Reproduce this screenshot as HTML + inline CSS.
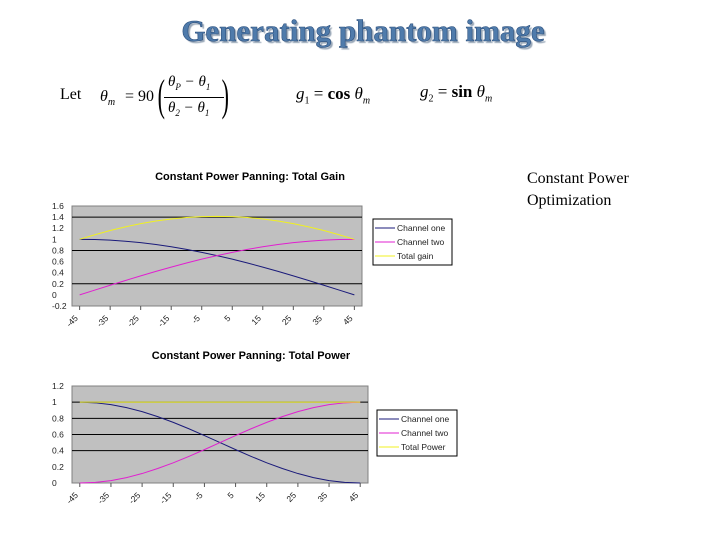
<!DOCTYPE html>
<html><head><meta charset="utf-8"><style>
body{margin:0;width:720px;height:540px;background:#fff;position:relative;overflow:hidden;font-family:"Liberation Sans",sans-serif}
.abs{position:absolute}
.ser{font-family:"Liberation Serif",serif}
</style></head><body>
<div class="abs ser" style="left:0;width:726px;top:13px;text-align:center;font-size:31px;font-weight:bold;color:#4f7bab;text-shadow:2px 2px 1px #9aa8b8;-webkit-text-stroke:0.6px #2c4f7c">Generating phantom image</div>
<div class="abs ser" style="left:60px;top:72px;font-size:16px;width:190px;height:52px">
<span style="position:absolute;left:0;top:14px">Let</span>
<span style="position:absolute;left:40px;top:16px;font-style:italic">θ<sub style="font-size:10px">m</sub></span>
<span style="position:absolute;left:65px;top:16px">= 90</span>
<span style="position:absolute;left:94px;top:-2px;font-size:44px;transform:scaleX(0.5);font-weight:100">(</span>
<span style="position:absolute;left:108px;top:2px;font-style:italic;font-size:15px">θ<sub style="font-size:9px">P</sub> − θ<sub style="font-size:9px">1</sub></span>
<span style="position:absolute;left:104px;top:25px;width:60px;border-top:1px solid #000"></span>
<span style="position:absolute;left:108px;top:28px;font-style:italic;font-size:15px">θ<sub style="font-size:9px">2</sub> − θ<sub style="font-size:9px">1</sub></span>
<span style="position:absolute;left:158px;top:-2px;font-size:44px;transform:scaleX(0.5)">)</span>
</div>
<div class="abs ser" style="left:296px;top:84px;font-size:17px"><i>g</i><sub style="font-size:10px">1</sub> = <b>cos</b> <i>θ<sub style="font-size:10px">m</sub></i></div>
<div class="abs ser" style="left:420px;top:82px;font-size:17px"><i>g</i><sub style="font-size:10px">2</sub> = <b>sin</b> <i>θ<sub style="font-size:10px">m</sub></i></div>
<div class="abs ser" style="left:527px;top:168px;font-size:16px;line-height:22px">Constant Power<br>Optimization</div>
<svg class="abs" style="left:0;top:0" width="720" height="540" id="svg"></svg>
<script>
const categories=[-45,-40,-35,-30,-25,-20,-15,-10,-5,0,5,10,15,20,25,30,35,40,45];
const tickLabels=["-45","-35","-25","-15","-5","5","15","25","35","45"];
const gainOne=[1,0.996,0.985,0.966,0.94,0.906,0.866,0.819,0.766,0.707,0.643,0.574,0.5,0.423,0.342,0.259,0.174,0.087,0];
const gainTwo=[0,0.087,0.174,0.259,0.342,0.423,0.5,0.574,0.643,0.707,0.766,0.819,0.866,0.906,0.94,0.966,0.985,0.996,1];
const gainTotal=[1,1.083,1.159,1.225,1.282,1.329,1.366,1.393,1.409,1.414,1.409,1.393,1.366,1.329,1.282,1.225,1.159,1.083,1];
const powerOne=[1,0.992,0.97,0.933,0.883,0.821,0.75,0.671,0.587,0.5,0.413,0.329,0.25,0.179,0.117,0.067,0.03,0.008,0];
const powerTwo=[0,0.008,0.03,0.067,0.117,0.179,0.25,0.329,0.413,0.5,0.587,0.671,0.75,0.821,0.883,0.933,0.97,0.992,1];
const powerTotal=[1,1,1,1,1,1,1,1,1,1,1,1,1,1,1,1,1,1,1];
const gainTicks=["1.6","1.4","1.2","1","0.8","0.6","0.4","0.2","0","-0.2"];
const powerTicks=["1.2","1","0.8","0.6","0.4","0.2","0"];
const NS="http://www.w3.org/2000/svg";
const svg=document.getElementById('svg');
function mk(t,a,p){const e=document.createElementNS(NS,t);for(const k in a)e.setAttribute(k,a[k]);(p||svg).appendChild(e);return e;}
function chart(o){
  const g=mk('g',{});
  
  
  const x=i=>o.x0+(o.x1-o.x0)*(i+0.5)/categories.length;
  const y=v=>o.y1-(v-o.ymin)/(o.ymax-o.ymin)*(o.y1-o.y0);
  const bg=mk('rect',{x:o.x0,y:o.y0,width:o.x1-o.x0,height:o.y1-o.y0,fill:'#c0c0c0',stroke:'#808080'},g);
  
  
  const t=mk('text',{x:o.tx,y:o.ty,'font-size':11,'font-weight':'bold','text-anchor':'middle'},g);t.textContent=o.title;
  
  
  o.ticks.forEach((s,i)=>{const v=o.ymax-i*o.step;const yy=y(v);
    const l=mk('text',{x:o.x0-20,y:yy+3,'font-size':8.5,fill:'#222'},g);l.textContent=s;
    
    
    if(o.grid.includes(i)){const gl=mk('line',{x1:o.x0,x2:o.x1,y1:yy,y2:yy,stroke:'#000','stroke-width':1},g);
      
      }
  });
  tickLabels.forEach((s,i)=>{const xx=x(i*2)-4;const yy=o.y1+14;
    const l=mk('text',{x:xx,y:yy,'font-size':8.5,fill:'#222','text-anchor':'end',transform:`rotate(-45 ${xx} ${yy-4})`},g);l.textContent=s;
    
    
    const tk=mk('line',{x1:x(i*2),x2:x(i*2),y1:o.y1,y2:o.y1+4,stroke:'#555'},g);
    
    
  });
  o.series.forEach((s,k)=>{
    const p=mk('polyline',{points:s.v.map((v,i)=>x(i)+','+y(v)).join(' '),fill:'none',stroke:s.c,'stroke-width':1},g);
    
    
  });
  const lg=mk('rect',{x:o.lx,y:o.ly,width:o.lw,height:46,fill:'#fff',stroke:'#000'},g);
  
  
  o.series.forEach((s,k)=>{const yy=o.ly+9+k*14;
    mk('line',{x1:o.lx+2,x2:o.lx+22,y1:yy,y2:yy,stroke:s.c},g);
    const l=mk('text',{x:o.lx+24,y:yy+3,'font-size':8.5,fill:'#222'},g);l.textContent=s.n;
    
    
  });
}
chart({name:'total-gain-chart',title:'Constant Power Panning: Total Gain',tx:250,ty:180,x0:72,x1:362,y0:206,y1:306,ymin:-0.2,ymax:1.6,step:0.2,ticks:gainTicks,grid:[1,4,7],lx:373,ly:219,lw:79,
  series:[{v:gainOne,c:'#1a1a7a',n:'Channel one'},{v:gainTwo,c:'#e020d0',n:'Channel two'},{v:gainTotal,c:'#f0f020',n:'Total gain'}]});
chart({name:'total-power-chart',title:'Constant Power Panning: Total Power',tx:251,ty:359,x0:72,x1:368,y0:386,y1:483,ymin:0,ymax:1.2,step:0.2,ticks:powerTicks,grid:[1,2,3,4],lx:377,ly:410,lw:80,
  series:[{v:powerOne,c:'#1a1a7a',n:'Channel one'},{v:powerTwo,c:'#e020d0',n:'Channel two'},{v:powerTotal,c:'#f0f020',n:'Total Power'}]});
</script>
</body></html>
